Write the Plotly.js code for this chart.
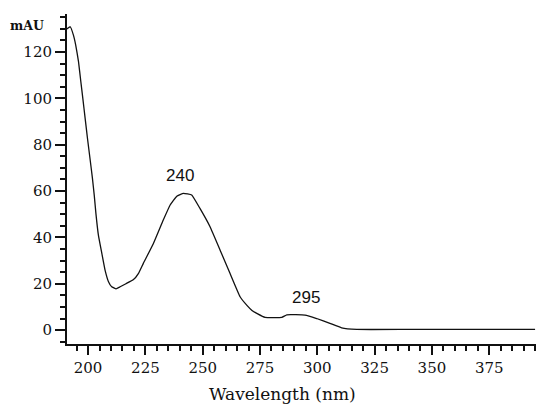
<!DOCTYPE html>
<html>
<head>
<meta charset="utf-8">
<script src="https://cdn.plot.ly/plotly-3.0.1.min.js"></script>
<style>html,body{margin:0;padding:0;background:#fff;}#chart{width:536px;height:405px;}</style>
</head>
<body>
<div id="chart"></div>
<script>
// Wavelength (nm)
const wavelength = [190.7, 192.2, 193.6, 194.6, 195.8, 196.8, 197.7, 198.7, 199.7, 200.9, 201.9, 202.7, 203.4, 204.5, 206.0, 207.4, 208.9, 210.3, 212.2, 214.0, 216.5, 219.8, 222.0, 224.1, 228.5, 232.8, 235.8, 238.7, 241.6, 245.2, 248.8, 253.2, 257.6, 261.9, 266.3, 269.2, 271.5, 274.0, 277.2, 284.5, 286.7, 294.6, 299.7, 305.5, 310.6, 317.2, 340.0, 370.0, 395.0];
// Absorbance (mAU)
const absorbance = [129.9, 130.9, 127.3, 123.0, 116.0, 107.5, 100.0, 91.5, 83.0, 73.5, 65.5, 58.0, 50.5, 41.0, 33.1, 25.9, 20.9, 18.7, 17.8, 18.7, 20.0, 21.8, 24.5, 28.8, 37.4, 47.5, 54.0, 57.8, 59.0, 58.3, 52.5, 44.6, 34.5, 24.5, 14.4, 10.8, 8.5, 7.0, 5.5, 5.5, 6.6, 6.5, 5.0, 2.9, 1.0, 0.3, 0.3, 0.3, 0.3];
// Peak labels
const peakWavelengths = [240, 295];
const peakValues = [59.0, 6.6];
const peakLabels = ["240", "295"];
const xTickVals = [200, 225, 250, 275, 300, 325, 350, 375];
const yTickVals = [0, 20, 40, 60, 80, 100, 120];

const trace = {
  x: wavelength, y: absorbance, type: 'scatter', mode: 'lines',
  line: {color: '#111', width: 1.3, shape: 'spline', smoothing: 0.3},
  hoverinfo: 'skip'
};

const serif = "'DejaVu Serif', 'Liberation Serif', serif";
const plotW = 536 - 67, plotH = 405 - 14 - 61;
const px2paperX = p => (p - 67) / plotW;
const px2paperY = p => (405 - 61 - p) / plotH;

const annotations = peakWavelengths.map((w, i) => ({
  x: w, y: peakValues[i], xref: 'x', yref: 'y', text: peakLabels[i],
  showarrow: false, yanchor: 'bottom', xanchor: 'center', yshift: 6,
  font: {family: 'Liberation Sans, Arial, sans-serif', size: 17, color: '#111'}
}));
annotations.push({
  x: px2paperX(282), y: px2paperY(394), xref: 'paper', yref: 'paper',
  xanchor: 'center', yanchor: 'middle', text: 'Wavelength (nm)', showarrow: false,
  font: {family: serif, size: 17, color: '#111'}
});
annotations.push({
  x: px2paperX(27), y: px2paperY(25), xref: 'paper', yref: 'paper',
  xanchor: 'center', yanchor: 'middle', text: 'mAU', showarrow: false,
  font: {family: serif, size: 12.5, color: '#111', weight: 'bold'}
});

const tickFont = {family: serif, size: 15, color: '#111'};

const layout = {
  width: 536, height: 405,
  margin: {l: 67, r: 0, t: 14, b: 61, pad: 0},
  paper_bgcolor: '#fff', plot_bgcolor: '#fff',
  showlegend: false,
  xaxis: {
    range: [190.8, 395.4], tickvals: xTickVals, ticktext: xTickVals.map(String),
    ticks: 'outside', ticklen: 9, tickwidth: 2, tickcolor: '#111',
    showline: true, linecolor: '#111', linewidth: 2,
    showgrid: false, zeroline: false, tickfont: tickFont,
    minor: {dtick: 5, tick0: 0, ticks: 'outside', ticklen: 5, tickwidth: 2, tickcolor: '#111', showgrid: false}
  },
  yaxis: {
    range: [-6, 136.4], tickvals: yTickVals, ticktext: yTickVals.map(String),
    ticks: 'outside', ticklen: 10, tickwidth: 2, tickcolor: '#111',
    showline: true, linecolor: '#111', linewidth: 2,
    showgrid: false, zeroline: false, tickfont: tickFont,
    minor: {dtick: 5, tick0: 0, ticks: 'outside', ticklen: 5, tickwidth: 2, tickcolor: '#111', showgrid: false}
  },
  annotations: annotations
};

Plotly.newPlot('chart', [trace], layout, {staticPlot: true, displayModeBar: false});
</script>
</body>
</html>
